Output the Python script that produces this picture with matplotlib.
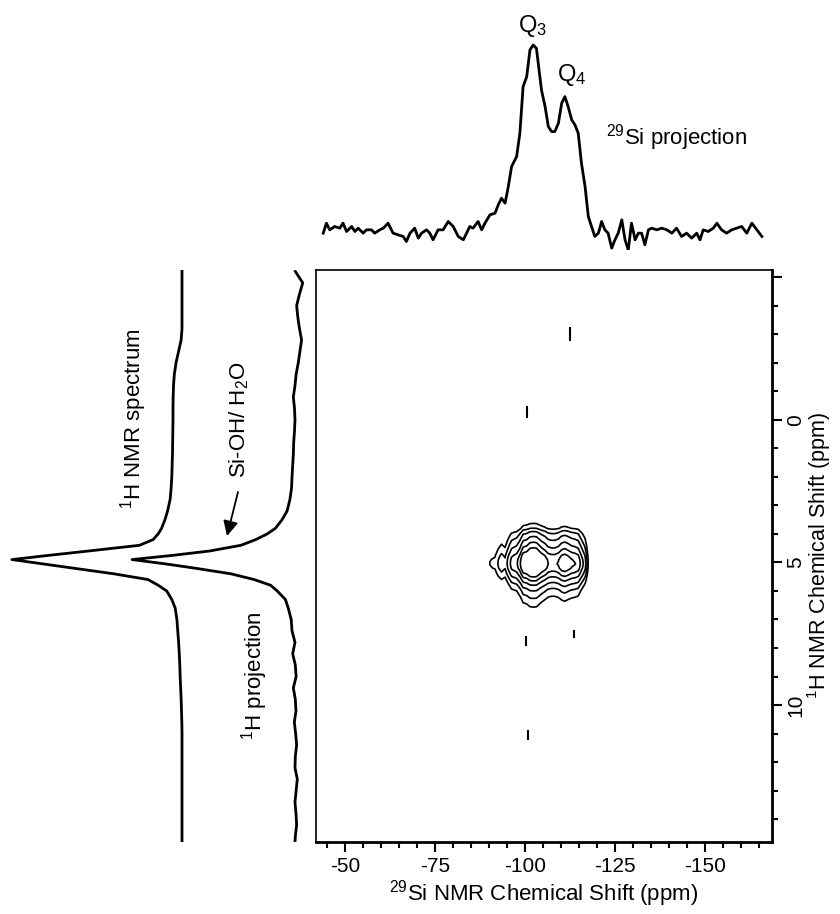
import numpy as np
import matplotlib.pyplot as plt
from matplotlib.ticker import MultipleLocator

plt.rcParams['font.family'] = ['Liberation Sans', 'DejaVu Sans']
plt.rcParams['mathtext.default'] = 'regular'
plt.rcParams['axes.unicode_minus'] = False

# 29Si projection (ppm, intensity in % of Q3)
si_ppm = [-44.0, -44.9, -45.8, -47.2, -48.6, -49.5, -50.5, -51.9, -52.8, -53.7,
          -55.1, -56.0, -57.4, -58.3, -59.7, -60.7, -62.0, -63.4, -64.8, -66.2,
          -67.1, -68.1, -69.4, -70.4, -71.3, -72.7, -73.6, -74.5, -75.9, -77.3,
          -78.7, -80.1, -81.5, -82.9, -83.8, -84.7, -85.6, -87.0, -88.0, -88.9,
          -90.3, -91.7, -92.6, -93.5, -94.5, -95.4, -96.3, -97.7, -98.6, -99.5,
          -100.5, -101.4, -102.3, -103.2, -104.6, -105.6, -106.5, -107.4, -108.3, -109.3,
          -110.2, -111.1, -112.0, -113.0, -113.9, -114.8, -115.7, -116.7, -117.6, -118.5,
          -119.4, -120.4, -121.3, -122.2, -123.1, -124.1, -125.0, -125.9, -126.9, -127.8,
          -128.7, -129.6, -130.6, -131.5, -132.4, -133.3, -134.3, -135.2, -136.6, -138.0,
          -139.4, -140.8, -142.1, -143.5, -144.9, -146.3, -147.7, -148.6, -149.5, -150.9,
          -152.3, -153.3, -154.6, -156.0, -157.4, -158.8, -160.2, -161.6, -163.0, -164.4,
          -165.8]
si_int = [-1.7, 3.7, 0.1, 1.9, 1.0, 3.7, -0.8, 1.9, -0.8, 1.0,
          -1.7, 0.1, 0.1, -1.7, 0.1, 1.0, 3.7, -1.7, -2.6, -3.5,
          -6.2, -1.7, 1.0, -4.4, -1.7, 0.1, -1.7, -5.3, 0.1, 0.1,
          4.6, 1.9, -3.5, -5.3, -1.7, 1.9, 1.0, 4.6, 0.1, 3.7,
          8.2, 9.1, 13.6, 17.2, 14.5, 23.5, 34.3, 39.7, 52.3, 77.5,
          82.9, 97.3, 100, 98.2, 75.7, 66.7, 55.9, 53.2, 53.2, 57.7,
          68.5, 72.1, 66.7, 59.5, 56.8, 52.3, 36.1, 23.5, 7.3, 1.9,
          -3.5, -1.7, 4.6, 0.1, -1.7, -9.8, -5.3, -1.7, 5.5, -5.3,
          -10.7, 3.7, -5.3, -1.7, -1.7, -8.0, 0.1, 1.0, 0.1, 1.0,
          0.1, -1.7, 1.0, -3.5, -1.7, -4.4, -1.7, -5.3, 0.1, -0.8,
          1.0, 3.7, 0.1, -1.7, 0.1, 1.0, 1.9, -1.7, 3.7, 0.1,
          -3.5]

# 1H traces (ppm, intensity in % of max)
h_ppm = [-5.2, -4.8, -4.4, -4.0, -3.6, -3.2, -2.8, -2.4, -2.0, -1.6,
         -1.2, -0.8, -0.4, 0.0, 0.4, 0.8, 1.2, 1.6, 2.0, 2.4, 2.8,
         3.2, 3.5, 3.8, 4.0, 4.2, 4.4, 4.6, 4.75, 4.9, 5.05, 5.2, 5.4, 5.6, 5.8, 6.0, 6.3, 6.6,
         7.0, 7.4, 7.8, 8.2, 8.6, 9.0, 9.4, 9.8, 10.2, 10.6,
         11.0, 11.4, 11.8, 12.2, 12.6, 13.0, 13.4, 13.8, 14.2, 14.6, 14.8]
h_proj = [1.0, -3.5, -1.5, 0.2, -0.5, -1.5, -2.8, -1.8, -0.8, 0.5,
          1.2, 2.2, 1.5, 1.2, 1.5, 2.0, 2.2, 2.6, 3.0, 3.3, 4.3,
          6.0, 9.0, 13, 18, 25, 34, 53, 75, 100, 80, 62, 40, 26, 16, 12, 7, 5.3,
          3.5, 3.0, 1.2, 2.6, 1.0, 0.5, 2.2, 1.0, 0.6, 1.6,
          0.8, 0.2, 1.0, 1.2, -0.2, 0.5, 1.2, 0.6, 0.2, 1.0, 1.2]
h_spec = [0, 0, 0, 0, 0, 0, 0.5, 2.0, 3.5, 4.5,
          5.0, 5.2, 5.3, 5.3, 5.4, 5.5, 5.6, 5.8, 6.0, 6.4, 7.0,
          8.5, 10, 12, 14, 17, 25, 55, 78, 100, 82, 64, 40, 20, 14, 9, 6, 4,
          3.0, 2.5, 2.0, 1.6, 1.3, 1.1, 0.8, 0.5, 0.3, 0.1,
          0, 0, 0, 0, 0, 0, 0, 0, 0, 0, 0]
# 1H cross-section through the 2D map
h_slice = [0, 0, 0, 0, 0, 0, 0, 0, 0, 0,
           0, 0, 0, 0, 0, 0, 0, 0, 0, 0, 0,
           1, 4, 13, 25, 36, 49, 65, 82, 95, 100, 92, 68, 46, 30, 20, 12, 7.5,
           3, 1, 0, 0, 0, 0, 0, 0, 0, 0,
           0, 0, 0, 0, 0, 0, 0, 0, 0, 0, 0]

# small isolated specks in the 2D map: 29Si ppm, 1H start, 1H end
speck_si = [-100.6, -112.5, -100.8, -113.5, -100.2]
speck_h0 = [-0.45, -3.2, 10.9, 7.4, 7.6]
speck_h1 = [-0.1, -2.8, 11.2, 7.6, 7.9]

levels = [0.08, 0.13, 0.2, 0.3, 0.42, 0.56]

W, H = 840, 914
fig = plt.figure(figsize=(8.4, 9.14), dpi=100)


def box(l, t, r, b):
    return [l / W, 1 - b / H, (r - l) / W, (b - t) / H]


# 2D map
ax = fig.add_axes(box(316, 270, 772, 842))
Z = np.outer(np.array(h_slice) / 100, np.array(si_int) / 100)
ax.contour(si_ppm, h_ppm, Z, levels=levels, colors='k', linewidths=1.2)
for s, a, b in zip(speck_si, speck_h0, speck_h1):
    ax.plot([s, s], [a, b], color='k', lw=1.5)
ax.set_xlim(-42, -168.6)
ax.set_ylim(14.8, -5.25)
ax.set_xticks([-50, -75, -100, -125, -150])
ax.xaxis.set_minor_locator(MultipleLocator(5))
ax.yaxis.tick_right()
ax.yaxis.set_label_position('right')
ax.set_yticks([-5, 0, 5, 10])
ax.set_yticklabels(['', '0', '5', '10'], rotation=90, va='center')
ax.yaxis.set_minor_locator(MultipleLocator(1))
ax.tick_params(which='both', direction='out', width=1.5, labelsize=15)
ax.tick_params(which='major', length=7.5, pad=3)
ax.tick_params(which='minor', length=4.5)
for side in ['left', 'top']:
    ax.spines[side].set_linewidth(1.2)
for side in ['right', 'bottom']:
    ax.spines[side].set_linewidth(2)
ax.set_xlabel('$^{29}$Si NMR Chemical Shift (ppm)', fontsize=16, labelpad=2)
ax.set_ylabel('$^{1}$H NMR Chemical Shift (ppm)', fontsize=15.5, labelpad=0)

# 29Si projection on top
ax_top = fig.add_axes(box(316, 5, 772, 250))
ax_top.plot(si_ppm, si_int, color='k', lw=2)
ax_top.set_xlim(-42, -168.6)
ax_top.set_ylim(-10.8, 121.6)
ax_top.axis('off')
ax_top.text(-102.2, 110, 'Q$_3$', fontsize=17, ha='center', va='center')
ax_top.text(-113.1, 84, 'Q$_4$', fontsize=17, ha='center', va='center')
ax_top.text(-142.2, 50, '$^{29}$Si projection', fontsize=16, ha='center', va='center')

# 1H spectrum and 1H projection on the left
ax_spec = fig.add_axes(box(0, 270, 190, 842))
ax_spec.plot(h_spec, h_ppm, color='k', lw=2)
ax_spec.set_xlim(107, -4.7)
ax_spec.set_ylim(14.8, -5.25)
ax_spec.axis('off')

ax_proj = fig.add_axes(box(120, 270, 310, 842))
ax_proj.plot(h_proj, h_ppm, color='k', lw=2)
ax_proj.set_xlim(107.3, -7.9)
ax_proj.set_ylim(14.8, -5.25)
ax_proj.axis('off')

fig.text(134 / W, 1 - 419 / H, '$^{1}$H NMR spectrum', rotation=90,
         ha='center', va='center', fontsize=16)
fig.text(239 / W, 1 - 420 / H, 'Si-OH/ H$_2$O', rotation=90,
         ha='center', va='center', fontsize=16)
fig.text(255 / W, 1 - 676 / H, '$^{1}$H projection', rotation=90,
         ha='center', va='center', fontsize=16)
ax_proj.annotate('', xy=(227 / W, 1 - 536 / H), xycoords='figure fraction',
                 xytext=(238 / W, 1 - 492 / H), textcoords='figure fraction',
                 arrowprops=dict(arrowstyle='-|>,head_length=0.9,head_width=0.45',
                                 color='k', lw=1.3, shrinkA=0, shrinkB=0))

fig.savefig('out.png', dpi=100)
